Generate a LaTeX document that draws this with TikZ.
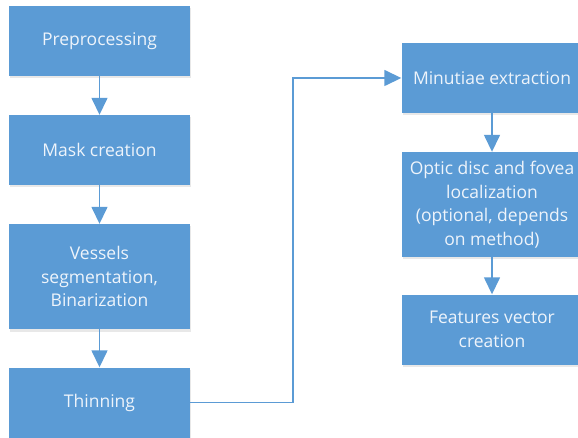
\documentclass[tikz,border=0pt]{standalone}
\usepackage{fontspec}
\setmainfont{Open Sans}
\usetikzlibrary{arrows.meta,shadows}
\definecolor{boxblue}{HTML}{5B9BD5}
\definecolor{boxtext}{HTML}{EEF4FB}
\tikzset{every node/.style={shape=rectangle,fill=boxblue,draw=none,text=boxtext,
  minimum width=181pt,minimum height=70pt,align=center,
  font=\fontsize{17.5}{23.5}\selectfont,
  drop shadow={opacity=0.18,shadow xshift=1pt,shadow yshift=-2.5pt}}}
\tikzset{every edge/.style={draw=boxblue,line width=1.5pt,-{Triangle[length=17pt,width=16pt]}}}

\begin{document}
\begin{tikzpicture}[x=1pt,y=-1pt,node distance=126pt]
  \useasboundingbox (0,0) rectangle (578,438);
  \node (P) at (99.5,41) {Preprocessing};
  \node (M) [node distance=109pt, below of=P] {Mask creation};
  \node (V) [below of=M, yshift=-0.5pt, minimum height=105pt] {Vessels\\segmentation,\\Binarization};
  \node (T) [below of=V] {Thinning};
  \node (E) at (492,78) {Minutiae extraction};
  \node (O) [below of=E, yshift=-0.5pt, minimum height=105pt] {Optic disc and fovea\\localization\\(optional, depends\\on method)};
  \node (F) [node distance=125pt, below of=O] {Features vector\\creation};

  \coordinate (K) at (293,240);

  \path (P) edge (M);
  \path (M) edge (V);
  \path (V) edge (T);

  \path (T.east) edge[to path={-| (K) |- (\tikztotarget)}] (E.west);

  \path (E) edge (O);
  \path (O) edge (F);
\end{tikzpicture}
\end{document}
